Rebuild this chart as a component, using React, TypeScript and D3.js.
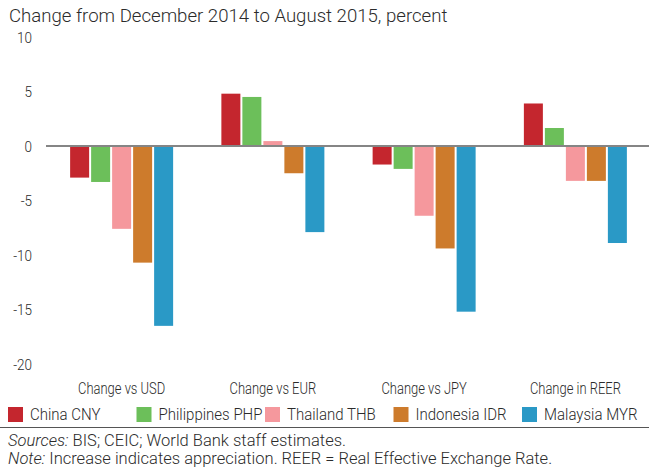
import React from "react";
import * as d3 from "d3";

const categories = ["Change vs USD", "Change vs EUR", "Change vs JPY", "Change in REER"];
const seriesNames = ["China CNY", "Philippines PHP", "Thailand THB", "Indonesia IDR", "Malaysia MYR"];
const chinaCNY = [-2.9, 4.8, -1.7, 3.9];
const philippinesPHP = [-3.3, 4.5, -2.1, 1.65];
const thailandTHB = [-7.6, 0.45, -6.4, -3.2];
const indonesiaIDR = [-10.7, -2.5, -9.4, -3.2];
const malaysiaMYR = [-16.5, -7.9, -15.2, -8.9];
const seriesValues = [chinaCNY, philippinesPHP, thailandTHB, indonesiaIDR, malaysiaMYR];
const seriesColors = ["#c4262e", "#6cbf5a", "#f5989d", "#cd7b2c", "#2a99c6"];
const yTicks = [10, 5, 0, -5, -10, -15, -20];
const title = "Change from December 2014 to August 2015, percent";

const W = 649;
const H = 472;
const regular = "Roboto, 'Liberation Sans', sans-serif";
const textColor = "#2b2b2b";

function NarrowText(props: {
  x: number;
  y: number;
  size: number;
  sx: number;
  anchor?: "start" | "middle" | "end";
  dy?: string;
  children: React.ReactNode;
}) {
  return (
    <text
      transform={`translate(${props.x},${props.y}) scale(${props.sx},1)`}
      dy={props.dy}
      textAnchor={props.anchor || "start"}
      fontFamily={regular}
      fontWeight={300}
      fontSize={props.size}
      fill={textColor}
    >
      {props.children}
    </text>
  );
}

export default function App() {
  const x0 = d3.scaleBand<string>().domain(categories).range([46, 651]).padding(0);
  const groupW = 103;
  const x1 = d3
    .scaleBand<number>()
    .domain(d3.range(seriesNames.length))
    .range([-groupW / 2, groupW / 2])
    .paddingInner(2 / 21)
    .paddingOuter(0);
  const y = d3.scaleLinear().domain([-20, 10]).range([364, 37]);

  const legendX = d3.scaleLinear().domain([0, 4]).range([8, 522]);

  return (
    <svg
      width={W}
      height={H}
      style={{ position: "absolute", left: 0, top: 0, display: "block", background: "#fff" }}
    >
      <text x={9} y={22} fontFamily={regular} fontSize={18.6} fill={textColor} fontWeight={300}>
        {title}
      </text>
      {yTicks.map((t) => (
        <NarrowText key={t} x={32} y={y(t)} dy="0.36em" anchor="end" size={15.5} sx={0.87}>
          {t}
        </NarrowText>
      ))}
      {categories.map((c, ci) => (
        <g key={c} transform={`translate(${(x0(c) as number) + x0.bandwidth() / 2},0)`}>
          {seriesValues.map((vals, si) => {
            const v = vals[ci];
            const y0 = y(Math.max(0, v));
            const h = Math.abs(y(v) - y(0));
            return (
              <rect
                key={si}
                x={x1(si) as number}
                y={y0}
                width={x1.bandwidth()}
                height={h}
                fill={seriesColors[si]}
              />
            );
          })}
          <NarrowText x={0} y={393.5} anchor="middle" size={16} sx={0.81}>
            {c}
          </NarrowText>
        </g>
      ))}
      <line x1={46} x2={649} y1={y(0)} y2={y(0)} stroke="#858585" strokeWidth={2} />
      {seriesNames.map((s, i) => (
        <g key={s} transform={`translate(${legendX(i)},407)`}>
          <rect x={0} y={0} width={15} height={15} fill={seriesColors[i]} />
          <NarrowText x={22} y={12.5} size={16.5} sx={0.91}>
            {s}
          </NarrowText>
        </g>
      ))}
      <line x1={0} x2={649} y1={427.5} y2={427.5} stroke="#555" strokeWidth={1} />
      <text x={8} y={446} fontFamily={regular} fontSize={16.5} fill={textColor} fontWeight={300}>
        <tspan fontStyle="italic">Sources:</tspan> BIS; CEIC; World Bank staff estimates.
      </text>
      <text x={8} y={464} fontFamily={regular} fontSize={16.5} fill={textColor} fontWeight={300}>
        <tspan fontStyle="italic">Note:</tspan> Increase indicates appreciation. REER = Real Effective Exchange Rate.
      </text>
    </svg>
  );
}
